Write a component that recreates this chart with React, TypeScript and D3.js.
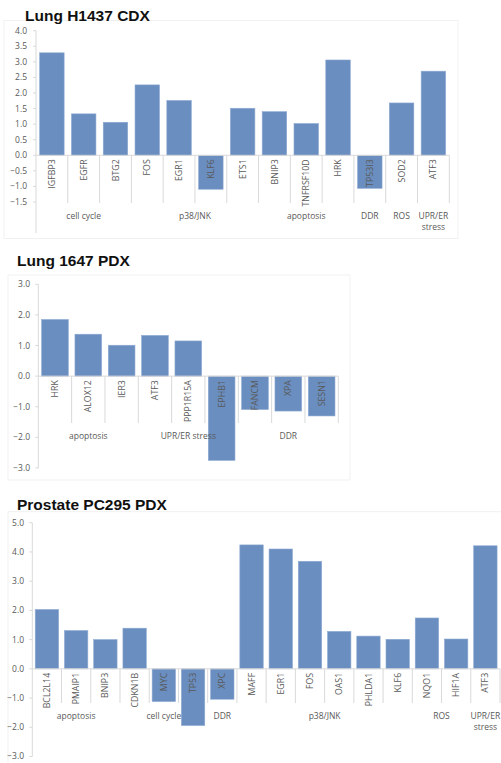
import * as d3 from "d3";

// Lung H1437 CDX
const p1Genes = ["IGFBP3", "EGFR", "BTG2", "FOS", "EGR1", "KLF6", "ETS1", "BNIP3", "TNFRSF10D", "HRK", "TP53I3", "SOD2", "ATF3"];
const p1Values = [3.29, 1.33, 1.06, 2.26, 1.76, -1.09, 1.51, 1.40, 1.02, 3.06, -1.06, 1.68, 2.70];
const p1Groups = ["cell cycle", "p38/JNK", "apoptosis", "DDR", "ROS", "UPR/ER stress"];
const p1GroupSizes = [3, 4, 3, 1, 1, 1];
const p1Ticks = [-1.5, -1.0, -0.5, 0.0, 0.5, 1.0, 1.5, 2.0, 2.5, 3.0, 3.5, 4.0];

// Lung 1647 PDX
const p2Genes = ["HRK", "ALOX12", "IER3", "ATF3", "PPP1R15A", "EPHB1", "FANCM", "XPA", "SESN1"];
const p2Values = [1.85, 1.37, 1.01, 1.33, 1.15, -2.75, -1.09, -1.14, -1.30];
const p2Groups = ["apoptosis", "UPR/ER stress", "DDR"];
const p2GroupSizes = [3, 3, 3];
const p2Ticks = [-3, -2, -1, 0, 1, 2, 3];

// Prostate PC295 PDX
const p3Genes = ["BCL2L14", "PMAIP1", "BNIP3", "CDKN1B", "MYC", "TP53", "XPC", "MAFF", "EGR1", "FOS", "OAS1", "PHLDA1", "KLF6", "NQO1", "HIF1A", "ATF3"];
const p3Values = [2.03, 1.31, 1.00, 1.39, -1.12, -1.94, -1.04, 4.24, 4.10, 3.68, 1.28, 1.12, 1.01, 1.74, 1.02, 4.21];
const p3Groups = ["apoptosis", "cell cycle", "DDR", "p38/JNK", "ROS", "UPR/ER stress"];
const p3GroupSizes = [3, 3, 1, 6, 2, 1];
const p3Ticks = [-3, -2, -1, 0, 1, 2, 3, 4, 5];

const BAR = "#6a8ebf";
const GRID = "#d9d9d9";
const TXT = "#595959";
const FONT = "'Open Sans', 'Liberation Sans', sans-serif";

type PanelProps = {
  title: string; titleX: number; titleY: number;
  frame: [number, number, number, number];
  genes: string[]; values: number[]; groups: string[]; sizes: number[]; ticks: number[];
  yDomain: [number, number]; yRange: [number, number];
  x0: number; x1: number; pad: number;
  catEnd: number; groupEnd: number; groupY: number; axisEnd: number; tickLabelX: number;
};

function Panel(p: PanelProps) {
  const x = d3.scaleBand<string>().domain(p.genes.map((g, i) => i + "")).range([p.x0, p.x1]).paddingInner(p.pad).paddingOuter(p.pad / 2);
  const y = d3.scaleLinear().domain(p.yDomain).range(p.yRange);
  const y0 = y(0);
  const step = x.step();
  const starts = d3.cumsum([0, ...p.sizes]);
  const fmt = d3.format(".1f");
  return (
    <g>
      <rect x={p.frame[0]} y={p.frame[1]} width={p.frame[2]} height={p.frame[3]} fill="none" stroke="#f1f1f1" />
      <text x={p.titleX} y={p.titleY} fontFamily="'Liberation Sans', Arial, sans-serif" fontWeight="bold" fontSize={15.5} fill="#111">{p.title}</text>
      {p.values.map((v, i) => (
        <rect key={i} x={x(i + "")} width={x.bandwidth()} y={Math.min(y(v), y0)} height={Math.abs(y(v) - y0)} fill={BAR} stroke="#8eaad3" strokeWidth={0.6} />
      ))}
      <line x1={p.x0} x2={p.x0} y1={p.yRange[1]} y2={p.axisEnd} stroke={GRID} />
      {p.ticks.map((t) => (
        <g key={t}>
          <line x1={p.x0 - 3} x2={p.x0} y1={y(t)} y2={y(t)} stroke={GRID} />
          <text x={p.tickLabelX} y={y(t)} dy="0.35em" textAnchor="end" fontFamily={FONT} fontSize={8.5} fill={TXT}>{fmt(t)}</text>
        </g>
      ))}
      <line x1={p.x0} x2={p.x1} y1={y0} y2={y0} stroke={GRID} />
      {p.genes.map((g, i) => (
        <line key={"c" + i} x1={p.x0 + step * (i + 1)} x2={p.x0 + step * (i + 1)} y1={y0} y2={p.catEnd} stroke={GRID} />
      ))}
      {starts.slice(1).map((s, i) => (
        <line key={"g" + i} x1={p.x0 + step * s} x2={p.x0 + step * s} y1={y0} y2={p.groupEnd} stroke={GRID} />
      ))}
      {p.genes.map((g, i) => (
        <text key={"t" + i} transform={`translate(${x(i + "")! + x.bandwidth() / 2},${y0 + 4}) rotate(-90)`} dy="0.35em" textAnchor="end" fontFamily={FONT} fontSize={8.8} fill={TXT}>{g}</text>
      ))}
      {p.groups.map((g, i) => {
        const cx = p.x0 + step * (starts[i] + p.sizes[i] / 2);
        const wrap = p.sizes[i] === 1 && g.includes(" ");
        const lines = wrap ? [g.slice(0, g.lastIndexOf(" ")), g.slice(g.lastIndexOf(" ") + 1)] : [g];
        return (
          <text key={"gl" + i} x={cx} y={p.groupY} textAnchor="middle" fontFamily={FONT} fontSize={8.5} fill={TXT}>
            {lines.map((l, j) => <tspan key={j} x={cx} dy={j === 0 ? 0 : 11}>{l}</tspan>)}
          </text>
        );
      })}
    </g>
  );
}

export default function App() {
  return (
    <svg width={501} height={763} style={{ position: "absolute", left: 0, top: 0, background: "#fff" }}>
      <Panel title="Lung H1437 CDX" titleX={25} titleY={20.5} frame={[4, 20.5, 454, 218]}
        genes={p1Genes} values={p1Values} groups={p1Groups} sizes={p1GroupSizes} ticks={p1Ticks}
        yDomain={[-1.5, 4]} yRange={[202, 30.7]} x0={36} x1={449.3} pad={0.23}
        catEnd={203} groupEnd={233} groupY={219} axisEnd={233} tickLabelX={27} />
      <Panel title="Lung 1647 PDX" titleX={17} titleY={266} frame={[8, 275, 342, 205]}
        genes={p2Genes} values={p2Values} groups={p2Groups} sizes={p2GroupSizes} ticks={p2Ticks}
        yDomain={[-3, 3]} yRange={[468, 284.3]} x0={38.3} x1={338.3} pad={0.2}
        catEnd={423} groupEnd={441} groupY={438.5} axisEnd={468} tickLabelX={30} />
      <Panel title="Prostate PC295 PDX" titleX={17} titleY={510} frame={[8, 511.7, 500, 260]}
        genes={p3Genes} values={p3Values} groups={p3Groups} sizes={p3GroupSizes} ticks={p3Ticks}
        yDomain={[-3, 5]} yRange={[756.5, 522.7]} x0={32.3} x1={500} pad={0.2}
        catEnd={703} groupEnd={732} groupY={719} axisEnd={756.5} tickLabelX={24} />
    </svg>
  );
}
